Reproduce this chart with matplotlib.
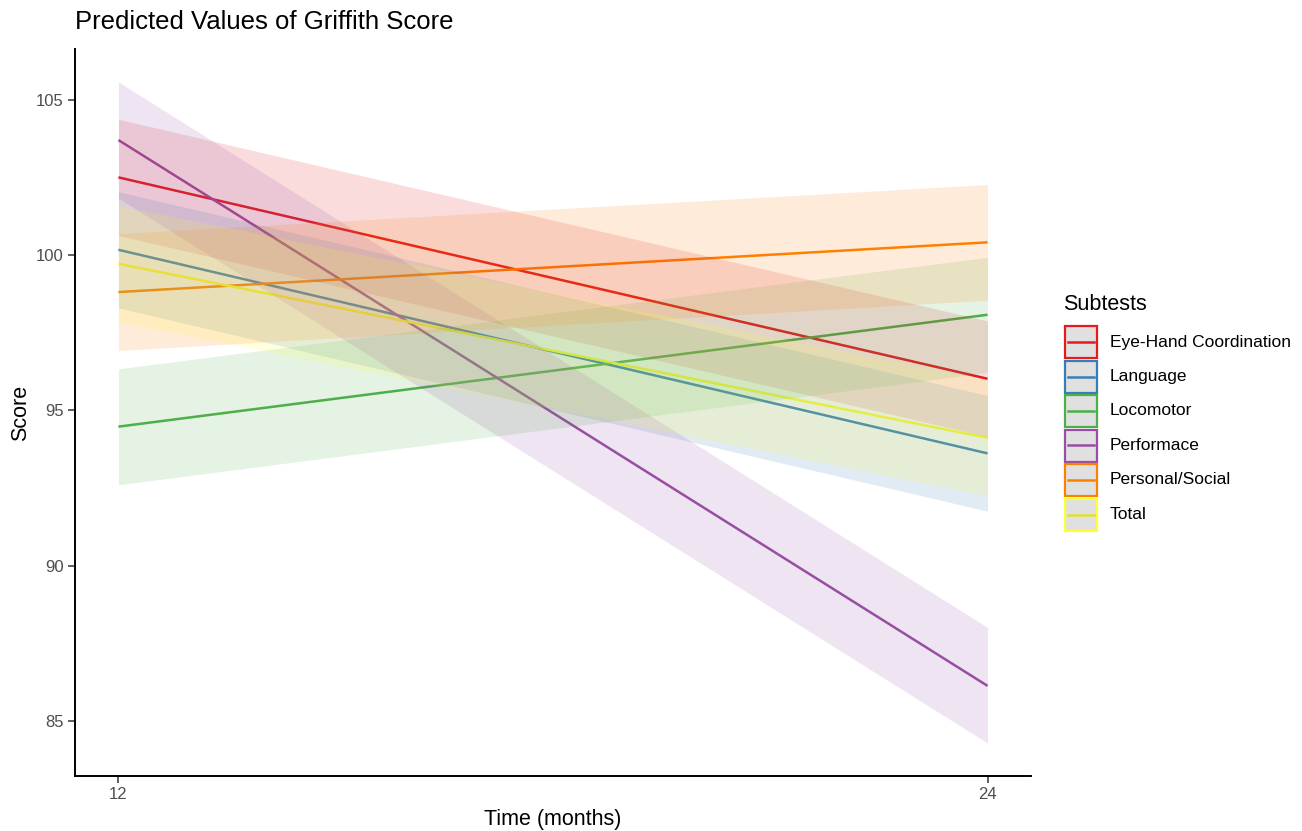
import matplotlib
matplotlib.use("Agg")
import matplotlib.pyplot as plt
from matplotlib.patches import Rectangle
from matplotlib.lines import Line2D

plt.rcParams['font.family'] = ['Liberation Sans', 'DejaVu Sans']

# Predicted Griffith scores at 12 and 24 months, with confidence bounds
time_points = [12, 24]
subtests = ["Eye-Hand Coordination", "Language", "Locomotor",
            "Performace", "Personal/Social", "Total"]
colors = ["#E41A1C", "#377EB8", "#4DAF4A", "#984EA3", "#FF7F00", "#FFFF33"]

eye_hand = [102.50, 96.02]
language = [100.17, 93.62]
locomotor = [94.48, 98.08]
performace = [103.70, 86.14]
personal_social = [98.81, 100.41]
total = [99.72, 94.12]

eye_hand_lo = [100.63, 94.16]
eye_hand_hi = [104.37, 97.88]
language_lo = [98.30, 91.76]
language_hi = [102.04, 95.48]
locomotor_lo = [92.61, 96.22]
locomotor_hi = [96.34, 99.93]
performace_lo = [101.83, 84.30]
performace_hi = [105.57, 88.02]
personal_social_lo = [96.93, 98.55]
personal_social_hi = [100.69, 102.27]
total_lo = [97.85, 92.26]
total_hi = [101.59, 95.98]

predicted = [eye_hand, language, locomotor, performace, personal_social, total]
lower = [eye_hand_lo, language_lo, locomotor_lo, performace_lo,
         personal_social_lo, total_lo]
upper = [eye_hand_hi, language_hi, locomotor_hi, performace_hi,
         personal_social_hi, total_hi]

W, H = 1302, 831
fig = plt.figure(figsize=(W / 100, H / 100), dpi=100)
ax = fig.add_axes([75 / W, 1 - 776 / H, (1031 - 75) / W, (776 - 49) / H])

for vals, col in zip(predicted, colors):
    ax.plot(time_points, vals, color=col, lw=1.8, zorder=2,
            solid_capstyle="butt")
for lo, hi, col in zip(lower, upper, colors):
    ax.fill_between(time_points, lo, hi, color=col, alpha=0.15,
                    linewidth=0, zorder=3)

ax.set_xlim(11.4, 24.6)
ax.set_ylim(83.24, 106.63)
ax.set_xticks(time_points)
ax.set_yticks([85, 90, 95, 100, 105])
ax.tick_params(axis="both", labelsize=12, labelcolor="#4D4D4D",
               color="#333333", length=5, width=1.1, pad=3)
for side in ["top", "right"]:
    ax.spines[side].set_visible(False)
for side in ["left", "bottom"]:
    ax.spines[side].set_linewidth(1.4)
    ax.spines[side].set_color("black")

ax.set_xlabel("Time (months)", fontsize=15.5, labelpad=5)
ax.set_ylabel("Score", fontsize=15.5, labelpad=4)
fig.text(75 / W, 1 - 22 / H, "Predicted Values of Griffith Score",
         fontsize=18.5, ha="left", va="center")

# Legend drawn in pixel units on the figure
def fx(x):
    return x / W

def fy(y):
    return 1 - y / H

fig.text(fx(1063), fy(305), "Subtests", fontsize=15.5, ha="left", va="center")
pitch = 34.5
for i, (name, col) in enumerate(zip(subtests, colors)):
    yc = 342 + i * pitch
    fig.patches.append(Rectangle((fx(1065), fy(yc + 16)), 32 / W, 32 / H,
                                 transform=fig.transFigure,
                                 facecolor="#E0E0E0", edgecolor=col,
                                 linewidth=1.6))
    line_col = "#E0E030" if col == "#FFFF33" else col
    fig.lines.append(Line2D([fx(1068), fx(1094)], [fy(yc), fy(yc)],
                            transform=fig.transFigure, color=line_col, lw=1.8))
    fig.text(fx(1110), fy(yc), name, fontsize=12.5, ha="left", va="center")

fig.savefig("out.png", dpi=100, facecolor="white")
